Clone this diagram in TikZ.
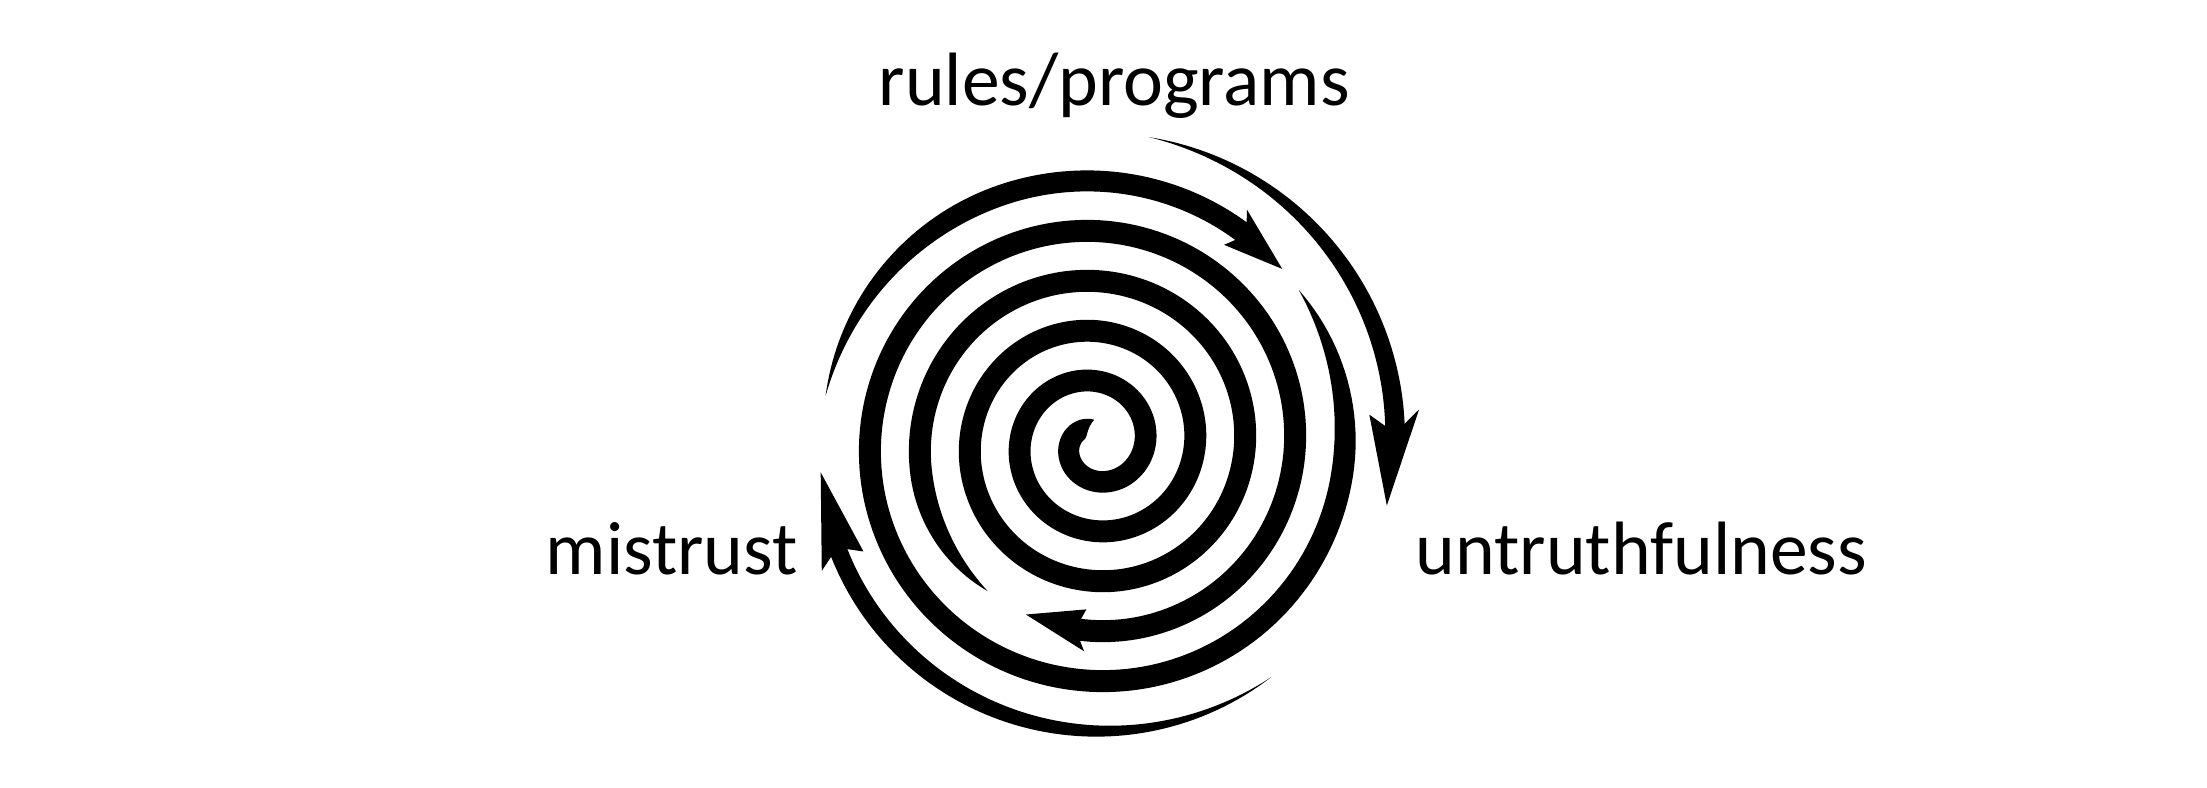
\documentclass[tikz,border=0pt]{standalone}
\usepackage{fontspec}
\setmainfont{Carlito}
\begin{document}
\begin{tikzpicture}[x=0.01cm,y=0.01cm,
  declare function={rr(\t)=\t/7.2;
    cl(\x)=min(1,max(0,\x));
    tp(\x)=cl(\x)*(2-cl(\x));},
  lbl/.style={font=\fontsize{21.5}{26}\selectfont, inner sep=0pt, anchor=base west}]
\useasboundingbox[fill=white] (0,0) rectangle (2207,787);
\newcommand\spseg[5]{% #1 start angle, #2 end angle, #3 taper length, #4 half width, #5 samples
  \fill plot[domain=#1:#2, samples=#5, variable=\t] (\t:{rr(\t)+#4*tp((#1-\t)/#3)})
     -- plot[domain=#2:#1, samples=#5, variable=\t] (\t:{rr(\t)-#4*tp((#1-\t)/#3)}) -- cycle;}
\newcommand\ahead[4]{% #1 tip, #2 notch, #3 barbs, #4 half width
  \fill (#1:{rr(#1)}) -- (#3:{rr(#3)+#4}) -- (#2:{rr(#2)}) -- (#3:{rr(#3)-#4}) -- cycle;}
\begin{scope}[shift={(1095,343.5)}]
  % outer right arrow
  \spseg{2240}{2160}{90}{10}{60}
  \ahead{2148}{2162}{2166}{25}
  % outer bottom-left arrow
  \spseg{2107}{2000}{95}{9}{70}
  \ahead{1986}{2002}{2005}{23}
  % top arc
  \spseg{1970}{1852}{60}{10.5}{80}
  \ahead{1843}{1854}{1857}{21}
  % spiral with inner arrow
  \spseg{1837}{1341}{45}{11}{260}
  \ahead{1328}{1344}{1347}{21}
  % innermost spiral, tapering to the inner tip
  \fill plot[domain=1314:92, samples=620, variable=\t]
      (\t:{rr(\t)+11*tp((1314-\t)/45)})
    -- plot[domain=92:1314, samples=620, variable=\t]
      (\t:{rr(\t)+11*tp((1314-\t)/45)-22*tp((1314-\t)/45)*tp((\t-92)/75)}) -- cycle;
\end{scope}
\node[lbl] (rp) at (878,681.4) {rules/programs};
\node[lbl] (mt) at (545,213) {mistrust};
\node[lbl] (ut) at (1415,213) {untruthfulness};
\end{tikzpicture}
\end{document}
